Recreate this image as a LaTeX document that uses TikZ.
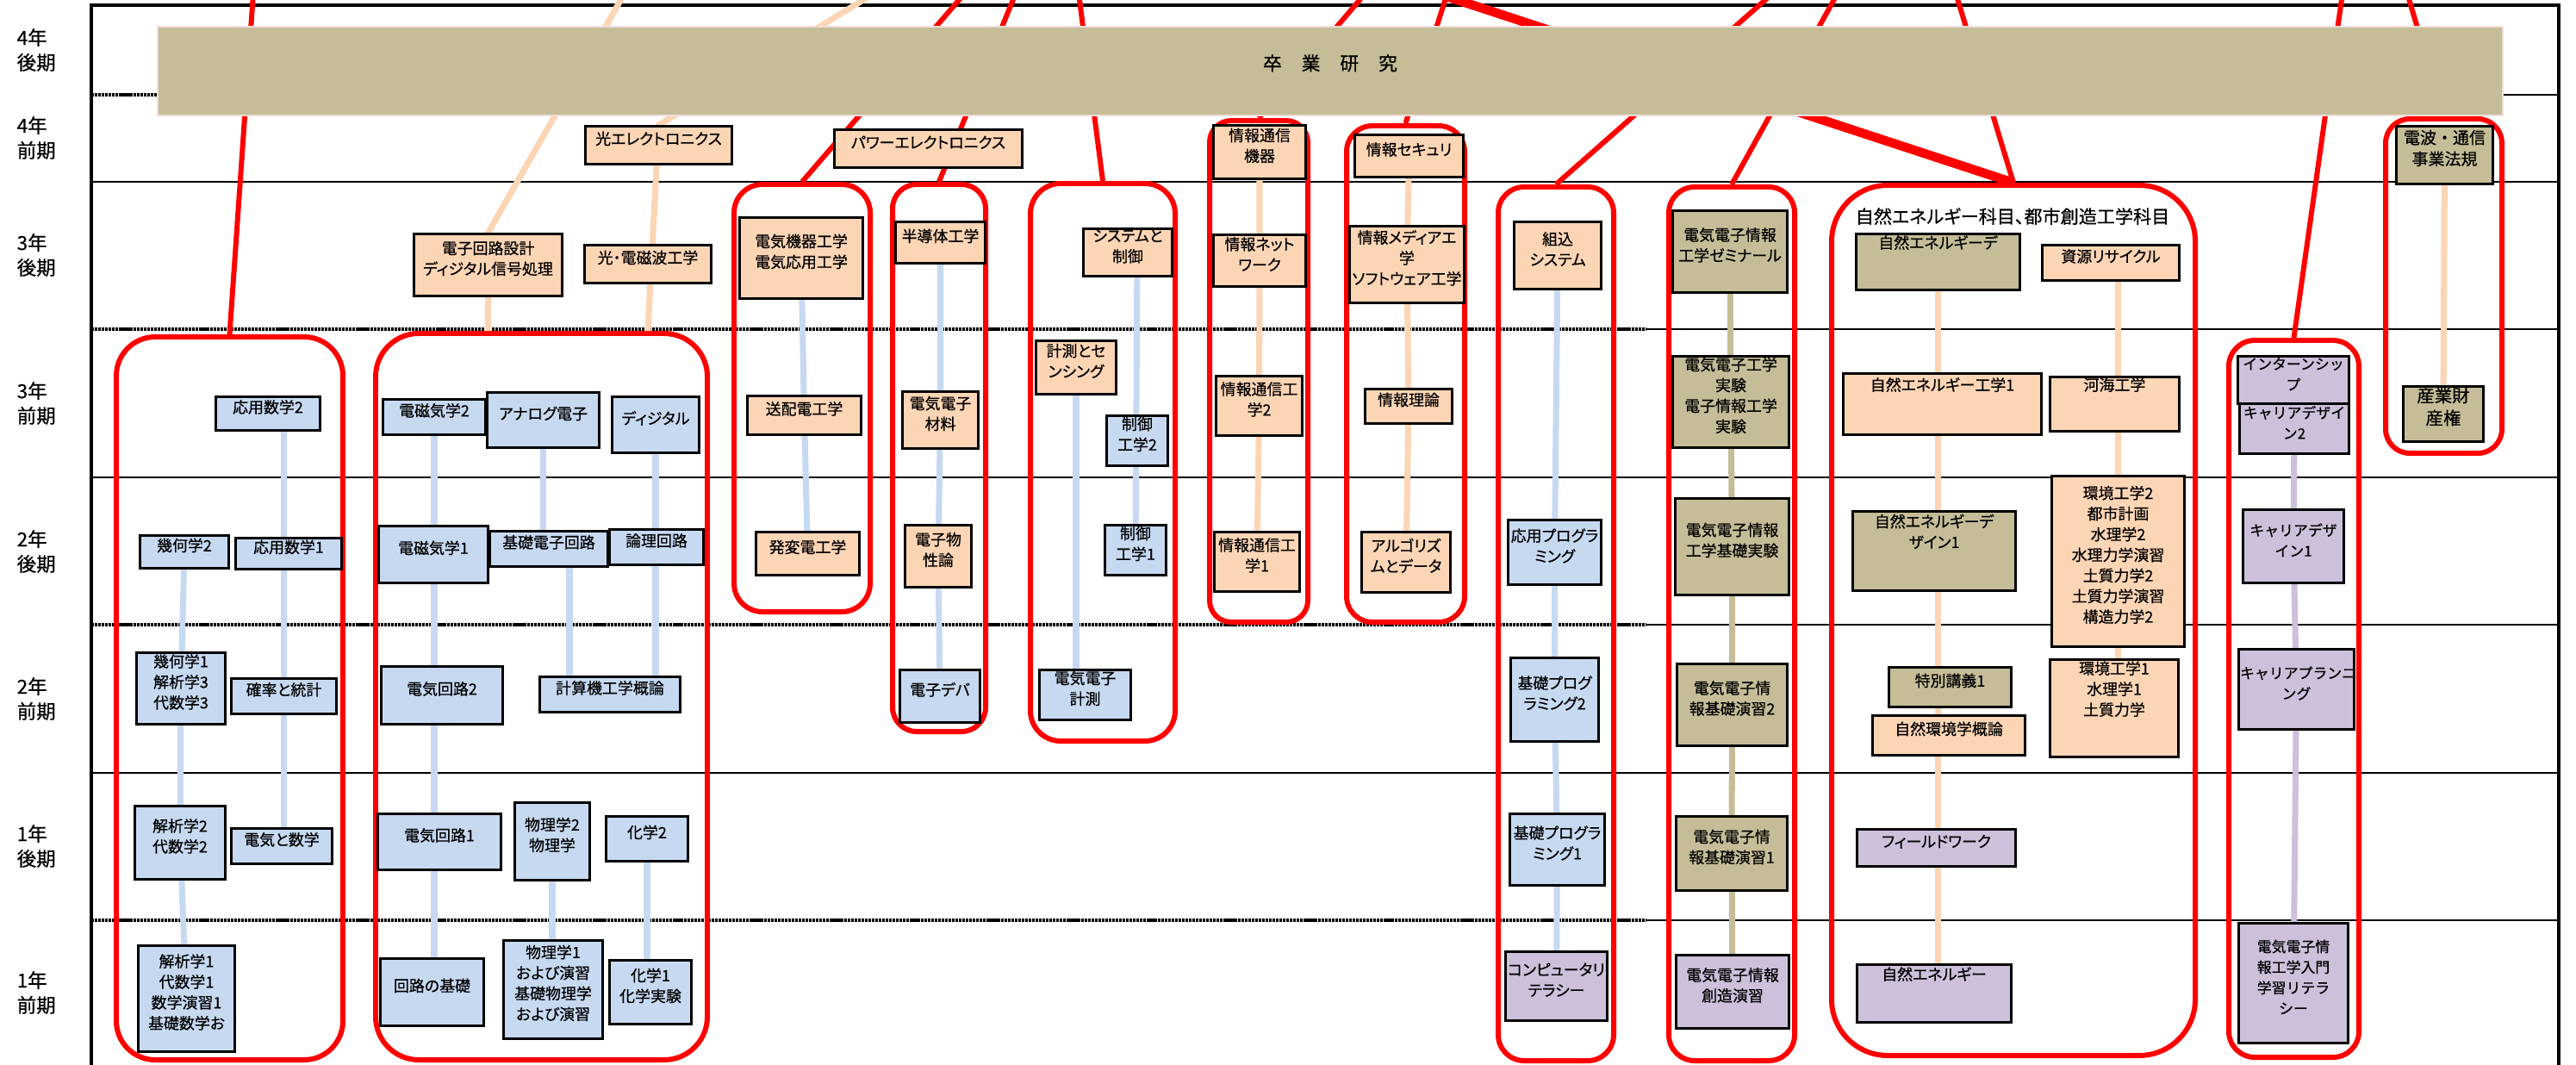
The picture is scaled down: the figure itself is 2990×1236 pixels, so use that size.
\documentclass[tikz,border=0pt]{standalone}
\usepackage{fontspec}
\setmainfont{Noto Sans CJK JP}[RawFeature=+palt,FakeBold=0.5]
\newfontfamily\widefont{Noto Sans CJK JP}[FakeBold=0.5]
\usetikzlibrary{fit}
\definecolor{BoxBlue}{HTML}{C6D9F1}
\definecolor{BoxPeach}{HTML}{FCD5B5}
\definecolor{BoxTan}{HTML}{C4BD97}
\definecolor{BoxLilac}{HTML}{CCC0DA}
\definecolor{GroupRed}{HTML}{FF0000}
\definecolor{BarEdge}{HTML}{F2DCDB}
\newcommand{\boxfont}{\fontsize{5.1pt}{6.8pt}\selectfont}
\newcommand{\rowfont}{\fontsize{6.4pt}{8.2pt}\selectfont}
\pgfdeclarelayer{back}
\pgfsetlayers{back,main}

\begin{document}
\begin{tikzpicture}[x=0.01cm,y=-0.01cm,
  every node/.style={align=center},
  cbox/.style={draw=black,line width=0.7pt,inner sep=0.4pt,font=\boxfont},
  bluebox/.style={cbox,fill=BoxBlue},
  peachbox/.style={cbox,fill=BoxPeach},
  tanbox/.style={cbox,fill=BoxTan},
  lilacbox/.style={cbox,fill=BoxLilac},
  widebox/.style={font=\widefont\fontsize{4.8pt}{6.8pt}\selectfont},
  grp/.style={draw=GroupRed,line width=1.7pt,inner sep=0pt},
  redln/.style={draw=GroupRed,line width=1.7pt},
  bluln/.style={draw=BoxBlue,line width=2pt},
  pchln/.style={draw=BoxPeach,line width=2pt},
  tanln/.style={draw=BoxTan,line width=2pt},
  lilln/.style={draw=BoxLilac,line width=2pt},
  rowln/.style={line width=0.45pt},
  semln/.style={line width=0.9pt,dash pattern=on 0.9pt off 0.25pt}
]
\useasboundingbox (0,0) rectangle (2990,1236);

% grid and frame
\begin{pgfonlayer}{back}
\foreach \yy in {211,554,897} \draw[rowln] (106,\yy) -- (2970,\yy);
\foreach \yy in {110,382,725,1068} {
  \draw[semln] (106,\yy) -- (1910,\yy);
  \draw[rowln] (1910,\yy) -- (2970,\yy);
}
\draw[line width=1pt] (106,1236) -- (106,6) -- (2970,6) -- (2970,1236);
\end{pgfonlayer}

% semester labels
\foreach \yy/\txt in {58/{4年\\後期},160/{4年\\前期},296/{3年\\後期},468/{3年\\前期},640/{2年\\後期},811/{2年\\前期},982/{1年\\後期},1152/{1年\\前期}}
  \node[anchor=west,align=left,font=\rowfont,inner sep=0pt] (row\yy) at (19,\yy) {\txt};

\node[fill=BoxTan,draw=BarEdge,line width=0.4pt,inner sep=0pt,fit={(183,31) (2905,134)},
  font=\fontsize{6.2pt}{7pt}\selectfont] (sotsuken) {卒\hspace{1.05em}業\hspace{1.05em}研\hspace{1.05em}究};

% groups
\node[grp,rounded corners=0.45cm,fit={(135,391) (398,1230)}] (gMath) {};
\node[grp,rounded corners=0.5cm,fit={(436,387) (821,1230)}] (gElec) {};
\node[grp,rounded corners=0.33cm,fit={(852,214) (1010,710)}] (gKiki) {};
\node[grp,rounded corners=0.28cm,fit={(1036,214) (1144,849)}] (gHan) {};
\node[grp,rounded corners=0.35cm,fit={(1196,213) (1364,860)}] (gSys) {};
\node[grp,rounded corners=0.25cm,fit={(1404,140) (1518,722)}] (gTsu) {};
\node[grp,rounded corners=0.3cm,fit={(1563,146) (1700,722)}] (gSeku) {};
\node[grp,rounded corners=0.3cm,fit={(1739,217) (1873,1231)}] (gKumi) {};
\node[grp,rounded corners=0.3cm,fit={(1937,217) (2083,1231)}] (gZemi) {};
\node[grp,rounded corners=0.65cm,fit={(2126,215) (2548,1225)}] (gShizen) {};
\node[grp,rounded corners=0.3cm,fit={(2587,395) (2738,1227)}] (gCareer) {};
\node[grp,rounded corners=0.28cm,fit={(2769,138) (2904,526)}] (gDenpa) {};

% mathematics
\node[bluebox,fit={(252,462) (370,498)}] (oyo2) {応用数学2};
\node[bluebox,fit={(164,623) (264,658)}] (kika2) {幾何学2};
\node[bluebox,fit={(275,626) (395,659)}] (oyo1) {応用数学1};
\node[bluebox,align=left,fit={(160,759) (260,839)}] (kika1) {幾何学1\\解析学3\\代数学3};
\node[bluebox,fit={(270,789) (389,827)}] (kakuritsu) {確率と統計};
\node[bluebox,align=left,fit={(158,937) (260,1019)}] (kaiseki2) {解析学2\\代数学2};
\node[bluebox,fit={(270,963) (384,1001)}] (denkisu) {電気と数学};
\node[bluebox,align=left,fit={(162,1099) (271,1219)}] (kaiseki1) {解析学1\\代数学1\\数学演習1\\基礎数学お};

% electricity and electronics basics
\node[bluebox,fit={(446,465) (562,503)}] (denji2) {電磁気学2};
\node[bluebox,fit={(567,457) (694,518)}] (analog) {アナログ電子};
\node[bluebox,fit={(712,462) (810,524)}] (digital) {ディジタル};
\node[bluebox,fit={(441,612) (565,675)}] (denji1) {電磁気学1};
\node[bluebox,fit={(570,618) (704,656)}] (kisoden) {基礎電子回路};
\node[bluebox,fit={(709,616) (815,654)}] (ronri) {論理回路};
\node[bluebox,fit={(444,775) (582,839)}] (kairo2) {電気回路2};
\node[bluebox,fit={(628,787) (788,825)}] (keisanki) {計算機工学概論};
\node[bluebox,fit={(440,946) (580,1008)}] (kairo1) {電気回路1};
\node[bluebox,fit={(599,933) (683,1020)}] (butsuri2) {物理学2\\物理学};
\node[bluebox,fit={(705,949) (797,998)}] (kagaku2) {化学2};
\node[bluebox,fit={(443,1114) (560,1189)}] (kairokiso) {回路の基礎};
\node[bluebox,align=left,fit={(586,1093) (698,1204)}] (butsuri1) {物理学1\\および演習\\基礎物理学\\および演習};
\node[bluebox,fit={(709,1116) (801,1187)}] (kagaku1) {化学1\\化学実験};
\node[peachbox,fit={(681,148) (848,189)}] (hikariE) {光エレクトロニクス};
\node[peachbox,fit={(482,273) (651,342)}] (kairoD) {電子回路設計\\ディジタル信号処理};
\node[peachbox,fit={(680,286) (824,327)}] (hikariD) {光・電磁波工学};
\node[peachbox,fit={(970,152) (1185,193)}] (power) {パワーエレクトロニクス};

% power
\node[peachbox,fit={(860,254) (1000,345)}] (kiki) {電気機器工学\\電気応用工学};
\node[peachbox,fit={(869,461) (998,503)}] (sohai) {送配電工学};
\node[peachbox,fit={(879,619) (996,666)}] (hatsuhen) {発変電工学};

% devices
\node[peachbox,fit={(1041,259) (1142,304)}] (handotai) {半導体工学};
\node[peachbox,fit={(1049,456) (1134,519)}] (zairyo) {電気電子\\材料};
\node[peachbox,fit={(1052,611) (1126,680)}] (bussei) {電子物\\性論};
\node[bluebox,fit={(1046,779) (1136,837)}] (device) {電子デバ};

% control
\node[peachbox,fit={(1259,267) (1359,319)}] (system) {システムと\\制御};
\node[peachbox,fit={(1204,397) (1294,456)}] (keisoku) {計測とセ\\ンシング};
\node[bluebox,fit={(1286,484) (1354,539)}] (seigyo2) {制御\\工学2};
\node[bluebox,fit={(1284,611) (1352,666)}] (seigyo1) {制御\\工学1};
\node[bluebox,fit={(1208,779) (1311,834)}] (keisokuB) {電気電子\\計測};

% communication
\node[peachbox,fit={(1410,147) (1514,206)}] (kiki2) {情報通信\\機器};
\node[peachbox,fit={(1410,274) (1514,331)}] (network) {情報ネット\\ワーク};
\node[peachbox,fit={(1413,438) (1510,504)}] (tsushin2) {情報通信工\\学2};
\node[peachbox,fit={(1411,619) (1507,685)}] (tsushin1) {情報通信工\\学1};

% information
\node[peachbox,fit={(1574,158) (1697,204)}] (security) {情報セキュリ};
\node[peachbox,fit={(1568,264) (1698,350)}] (media) {情報メディアエ\\学\\ソフトウェア工学};
\node[peachbox,fit={(1586,453) (1684,490)}] (riron) {情報理論};
\node[peachbox,fit={(1582,619) (1682,686)}] (algo) {アルゴリズ\\ムとデータ};

% programming
\node[peachbox,fit={(1759,259) (1857,334)}] (kumikomi) {組込\\システム};
\node[bluebox,fit={(1752,605) (1857,677)}] (oyoprog) {応用プログラ\\ミング};
\node[bluebox,fit={(1755,765) (1854,859)}] (kiso2) {基礎プログ\\ラミング2};
\node[bluebox,fit={(1754,946) (1861,1026)}] (kiso1) {基礎プログラ\\ミング1};
\node[lilacbox,fit={(1749,1106) (1864,1183)}] (literacy) {コンピュータリ\\テラシー};

% experiments and seminars
\node[tanbox,fit={(1943,246) (2073,338)}] (seminar) {電気電子情報\\工学ゼミナール};
\node[tanbox,fit={(1943,415) (2075,518)}] (jikken) {電気電子工学\\実験\\電子情報工学\\実験};
\node[tanbox,fit={(1946,580) (2075,689)}] (kisojik) {電気電子情報\\工学基礎実験};
\node[tanbox,fit={(1948,772) (2073,864)}] (enshu2) {電気電子情\\報基礎演習2};
\node[tanbox,fit={(1947,949) (2073,1032)}] (enshu1) {電気電子情\\報基礎演習1};
\node[lilacbox,fit={(1947,1110) (2075,1192)}] (sozo) {電気電子情報\\創造演習};

% natural energy and urban engineering
\node[font=\fontsize{6pt}{7pt}\selectfont,inner sep=0pt] (shizenTitle) at (2336,251) {自然エネルギー科目、都市創造工学科目};
\node[tanbox,fit={(2156,273) (2343,335)}] (sdesign2) {自然エネルギーデ\\\strut};
\node[peachbox,fit={(2372,286) (2528,324)}] (shigen) {資源リサイクル};
\node[peachbox,fit={(2141,435) (2368,503)}] (skogaku1) {自然エネルギー工学1\\\strut};
\node[peachbox,fit={(2381,439) (2528,499)}] (kakai) {河海工学\\\strut};
\node[tanbox,fit={(2152,595) (2338,684)}] (sdesign1) {自然エネルギーデ\\ザイン1\\\strut};
\node[peachbox,fit={(2383,554) (2534,749)}] (kankyo2) {環境工学2\\都市計画\\水理学2\\水理力学演習\\土質力学2\\土質力学演習\\構造力学2};
\node[tanbox,fit={(2194,776) (2333,819)}] (tokubetsu) {特別講義1};
\node[peachbox,fit={(2175,832) (2349,875)}] (gairon) {自然環境学概論};
\node[peachbox,fit={(2381,767) (2527,877)}] (kankyo1) {環境工学1\\水理学1\\土質力学\\\strut};
\node[lilacbox,fit={(2157,964) (2338,1004)}] (field) {フィールドワーク};
\node[lilacbox,fit={(2157,1121) (2333,1185)}] (senergy) {自然エネルギー\\\strut};

% career
\node[lilacbox,widebox,fit={(2599,415) (2725,467)}] (intern) {インターンシッ\\プ};
\node[lilacbox,widebox,fit={(2601,470) (2725,525)}] (cdesign2) {キャリアデザイ\\ン2};
\node[lilacbox,widebox,fit={(2605,593) (2719,675)}] (cdesign1) {キャリアデザ\\イン1};
\node[lilacbox,widebox,fit={(2600,755) (2731,845)}] (planning) {キャリアプランニ\\ング};
\node[lilacbox,widebox,fit={(2600,1073) (2724,1209)}] (nyumon) {電気電子情\\報工学入門\\学習リテラ\\シー};

% law
\node[tanbox,font=\widefont\fontsize{5.4pt}{7pt}\selectfont,fit={(2783,148) (2892,212)}] (denpa) {電波・通信\\事業法規};
\node[tanbox,font=\widefont\fontsize{5.8pt}{7.4pt}\selectfont,fit={(2791,450) (2881,511)}] (sangyo) {産業財\\産権};

% connectors
\coordinate (kisoTrack) at (661,640);
\coordinate (tMath) at (294,-8);
\coordinate (tKiki) at (1120,-8);
\coordinate (tHan) at (1179,-8);
\coordinate (tSys) at (1252,-8);
\coordinate (tTsu) at (1585,-8);
\coordinate (tSeku) at (1680,-8);
\coordinate (tKumi) at (2058,-8);
\coordinate (tZemi) at (2133,-8);
\coordinate (tShizenA) at (1667,-8);
\coordinate (tShizenB) at (2270,-8);
\coordinate (tCareer) at (2719,-8);
\coordinate (tDenpa) at (2794,-8);
\coordinate (tKairo) at (725,-8);
\coordinate (tHikari) at (1015,-8);

\begin{pgfonlayer}{back}
\draw[bluln] (kika2) -- (kika1) -- (kaiseki2) -- (kaiseki1);
\draw[bluln] (kakuritsu |- oyo2) -- (kakuritsu |- denkisu);
\draw[bluln] (denji2) -- (denji2 |- kairokiso);
\draw[bluln] (analog) -- (analog |- kisoden);
\draw[bluln] (kisoTrack) -- (kisoTrack |- keisanki);
\draw[bluln] (digital) -- (digital |- keisanki);
\draw[bluln] (butsuri2) -- (butsuri2 |- butsuri1);
\draw[bluln] (kagaku2) -- (kagaku2 |- kagaku1);
\draw[pchln] (kairoD |- gElec.north) -- (kairoD.north) -- (tKairo);
\draw[pchln] (hikariD |- gElec.north) -- (hikariE.north) -- (tHikari);
\draw[bluln] (kiki) -- (sohai) -- (hatsuhen);
\draw[bluln] (handotai) -- (zairyo) -- (bussei) -- (device);
\draw[bluln] (seigyo2 |- system) -- (seigyo1);
\draw[bluln] (keisoku) -- (keisoku |- keisokuB);
\draw[pchln] (kiki2) -- (network) -- (tsushin2) -- (tsushin1);
\draw[pchln] (security) -- (media) -- (riron) -- (algo);
\draw[bluln] (kumikomi) -- (oyoprog) -- (kiso2) -- (kiso1) -- (literacy);
\draw[tanln] (seminar) -- (jikken) -- (kisojik) -- (enshu2) -- (enshu1) -- (sozo);
\draw[pchln] (sdesign2) -- (sdesign2 |- senergy);
\draw[pchln] (kankyo2 |- shigen) -- (kankyo2 |- kankyo1);
\draw[lilln] (cdesign2) -- (cdesign1) -- (planning) -- (nyumon);
\draw[pchln] (denpa) -- (sangyo);
% links up to the graduation research
\draw[redln] (gMath.north) -- (tMath);
\draw[redln] (gKiki.north) -- (tKiki);
\draw[redln] (gHan.north) -- (tHan);
\draw[redln] (gSys.north) -- (tSys);
\draw[redln] (gTsu.north) -- (tTsu);
\draw[redln] (gSeku.north) -- (tSeku);
\draw[redln] (gKumi.north) -- (tKumi);
\draw[redln] (gZemi.north) -- (tZemi);
\draw[redln,line width=3pt] (gShizen.north) -- (tShizenA);
\draw[redln] (gShizen.north) -- (tShizenB);
\draw[redln] (gCareer.north) -- (tCareer);
\draw[redln] (gDenpa.north) -- (tDenpa);
\end{pgfonlayer}
\end{tikzpicture}
\end{document}
